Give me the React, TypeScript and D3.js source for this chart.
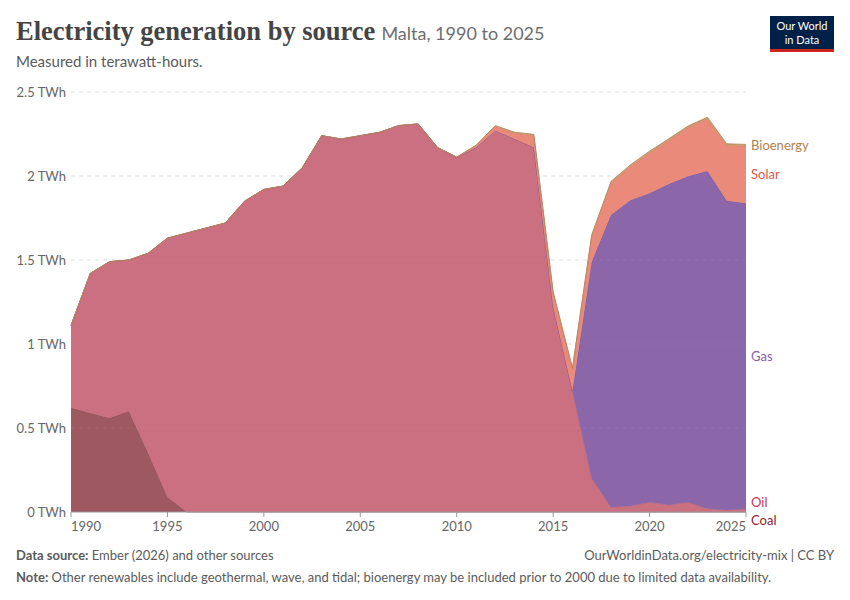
import React from "react";
import * as d3 from "d3";

const years = d3.range(1990, 2026);
const coal = [0.62,0.59,0.56,0.60,0.35,0.09,0,0,0,0,0,0,0,0,0,0,0,0,0,0,0,0,0,0,0,0,0,0,0,0,0,0,0,0,0,0];
const oil = [0.49,0.83,0.93,0.90,1.19,1.54,1.66,1.69,1.72,1.85,1.92,1.94,2.05,2.24,2.22,2.24,2.26,2.30,2.31,2.17,2.11,2.17,2.27,2.22,2.17,1.22,0.72,0.20,0.028,0.036,0.058,0.042,0.058,0.02,0.012,0.018];
const gas = [0,0,0,0,0,0,0,0,0,0,0,0,0,0,0,0,0,0,0,0,0,0,0,0,0,0,0,1.29,1.74,1.82,1.84,1.91,1.94,2.01,1.84,1.82];
const solar = [0,0,0,0,0,0,0,0,0,0,0,0,0,0,0,0,0,0,0,0,0.003,0.01,0.025,0.035,0.07,0.085,0.13,0.15,0.19,0.20,0.24,0.26,0.29,0.31,0.33,0.34];
const bioenergy = [0,0,0,0,0,0,0,0,0,0,0,0,0,0,0,0,0,0,0,0,0,0.003,0.005,0.006,0.008,0.006,0.008,0.01,0.01,0.01,0.01,0.01,0.01,0.01,0.01,0.01];

const seriesNames = ["Coal", "Oil", "Gas", "Solar", "Bioenergy"];
const seriesValues = [coal, oil, gas, solar, bioenergy];
const fillColors = ["#9e5960", "#ca7080", "#8b66a8", "#e98a7a", "#c59c6c"];
const strokeColors = ["#8a4a52", "#b65f70", "#7a5598", "#d9786a", "#b08656"];
const labelColors = ["#8b2232", "#c8385a", "#8a5ca8", "#e0574d", "#b0824f"];
const yTicks = [0, 0.5, 1, 1.5, 2, 2.5];
const xTicks = [1990, 1995, 2000, 2005, 2010, 2015, 2020, 2025];

const W = 850, H = 600;
const M = { left: 71, right: 746, top: 92, bottom: 512 };
const font = "Lato, 'Noto Sans', sans-serif";

export default function App() {
  const x = d3.scaleLinear().domain([1990, 2025]).range([M.left, M.right]);
  const y = d3.scaleLinear().domain([0, 2.5]).range([M.bottom, M.top]);

  const table = years.map((yr, i) => {
    const row: any = { year: yr };
    seriesNames.forEach((n, k) => (row[n] = seriesValues[k][i]));
    return row;
  });
  const stack = d3.stack<any>().keys(seriesNames)(table);

  const area = d3.area<any>()
    .x((d) => x(d.data.year))
    .y0((d) => y(d[0]))
    .y1((d) => y(d[1]));
  const topLine = d3.line<any>()
    .x((d) => x(d.data.year))
    .y((d) => y(d[1]));

  const last = stack.map((s) => s[s.length - 1]);
  let labels = last.map((d, k) => ({ name: seriesNames[k], k, y: y((d[0] + d[1]) / 2) }));
  labels.sort((a, b) => b.y - a.y);
  const gap = 18;
  for (let iter = 0; iter < 20; iter++) {
    for (let i = 0; i < labels.length - 1; i++) {
      const a = labels[i], b = labels[i + 1];
      if (a.y - b.y < gap) {
        const mid = (a.y + b.y) / 2;
        a.y = mid + gap / 2;
        b.y = mid - gap / 2;
      }
    }
  }

  return (
    <div style={{ position: "fixed", left: 0, top: 0 }}>
      <svg width={W} height={H} viewBox={`0 0 ${W} ${H}`} style={{ display: "block", background: "#fff" }}>
        <rect width={W} height={H} fill="#fff" />
        <text x={16} y={40} fontFamily="'Liberation Serif', 'DejaVu Serif', serif" fontSize={26.5} fontWeight={700} fill="#444">
          Electricity generation by source
          <tspan dx={6} fontFamily={font} fontSize={18} fontWeight={400} fill="#6e6e6e">Malta, 1990 to 2025</tspan>
        </text>
        <text x={16} y={67} fontFamily={font} fontSize={15} fill="#5b5b5b">Measured in terawatt-hours.</text>

        <g>
          <rect x={770} y={16} width={64} height={34} fill="#002147" />
          <rect x={770} y={49} width={64} height={3} fill="#ce261e" />
          <text x={802} y={29.5} textAnchor="middle" fontFamily={font} fontSize={11} fill="#fff">Our World</text>
          <text x={802} y={43.5} textAnchor="middle" fontFamily={font} fontSize={11} fill="#fff">in Data</text>
        </g>

        {yTicks.map((t) => (
          <g key={t}>
            {t > 0 && (
              <line x1={M.left} x2={M.right} y1={y(t)} y2={y(t)} stroke="#dddddd" strokeDasharray="4,4" strokeWidth={1} />
            )}
            <text x={66} y={y(t)} dy="0.35em" textAnchor="end" fontFamily={font} fontSize={13} fill="#666">
              {`${t} TWh`}
            </text>
          </g>
        ))}

        {stack.map((s, k) => (
          <g key={seriesNames[k]}>
            <path d={area(s) || ""} fill={fillColors[k]} />
            <path d={topLine(s) || ""} fill="none" stroke={strokeColors[k]} strokeWidth={0.8} />
          </g>
        ))}

        {yTicks.filter((t) => t > 0).map((t) => (
          <line key={"o" + t} x1={M.left} x2={M.right} y1={y(t)} y2={y(t)} stroke="#ffffff" strokeOpacity={0.06} strokeDasharray="4,4" />
        ))}

        <line x1={M.left} x2={M.right} y1={M.bottom} y2={M.bottom} stroke="#999" strokeWidth={1} />
        {xTicks.map((t, i) => (
          <g key={t}>
            <line x1={x(t)} x2={x(t)} y1={M.bottom} y2={M.bottom + 5} stroke="#999" />
            <text
              x={x(t)}
              y={M.bottom + 19}
              textAnchor={i === 0 ? "start" : i === xTicks.length - 1 ? "end" : "middle"}
              fontFamily={font}
              fontSize={13}
              fill="#666"
            >
              {t}
            </text>
          </g>
        ))}

        {labels.map((l) => (
          <text key={l.name} x={751} y={l.y} dy="0.35em" fontFamily={font} fontSize={13} fill={labelColors[l.k]}>
            {l.name}
          </text>
        ))}

        <text x={16} y={560} fontFamily={font} fontSize={13} fill="#5b5b5b">
          <tspan fontWeight={700}>Data source:</tspan> Ember (2026) and other sources
        </text>
        <text x={834} y={560} textAnchor="end" fontFamily={font} fontSize={13} fill="#5b5b5b">
          OurWorldinData.org/electricity-mix | CC BY
        </text>
        <text x={16} y={582} fontFamily={font} fontSize={13} fill="#5b5b5b">
          <tspan fontWeight={700}>Note:</tspan> Other renewables include geothermal, wave, and tidal; bioenergy may be included prior to 2000 due to limited data availability.
        </text>
      </svg>
    </div>
  );
}
